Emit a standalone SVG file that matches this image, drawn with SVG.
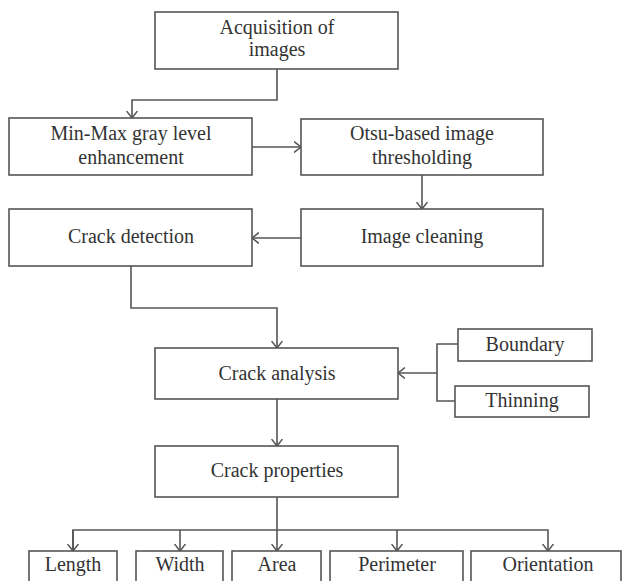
<svg xmlns="http://www.w3.org/2000/svg" width="622" height="581" viewBox="0 0 622 581">
<defs>
<style>
.box{fill:#fff;stroke:#555;stroke-width:1.6}
.t{font-family:"Liberation Serif","Times New Roman",serif;font-size:20px;fill:#333;text-anchor:middle}
.c{fill:none;stroke:#555;stroke-width:1.6}
</style>
<marker id="a" viewBox="0 0 7 12" refX="7" refY="6" markerWidth="7" markerHeight="12" markerUnits="userSpaceOnUse" orient="auto">
<path d="M0,0.5 L7,6 L0,11.5" fill="none" stroke="#555" stroke-width="1.5"/>
</marker>
</defs>
<rect width="622" height="581" fill="#fff"/>
<g id="connectors">
<path class="c" d="M277,69 V100 H132 V118" marker-end="url(#a)"/>
<path class="c" d="M252,147 H301" marker-end="url(#a)"/>
<path class="c" d="M422,175 V209" marker-end="url(#a)"/>
<path class="c" d="M301,238 H252" marker-end="url(#a)"/>
<path class="c" d="M131,266 V308 H277 V348" marker-end="url(#a)"/>
<path class="c" d="M458,344 H437 V401 H455"/>
<path class="c" d="M437,373 H398" marker-end="url(#a)"/>
<path class="c" d="M277,399 V446" marker-end="url(#a)"/>
<path class="c" d="M277,497 V551" marker-end="url(#a)"/>
<path class="c" d="M73,551 V530 H548 V551" marker-end="url(#a)"/>
<path class="c" d="M180,530 V551" marker-end="url(#a)"/>
<path class="c" d="M397,530 V551" marker-end="url(#a)"/>
<path class="c" d="M73,530 V551" marker-end="url(#a)"/>
</g>
<g id="acquisition"><rect class="box" x="155" y="12" width="243" height="57"/><text class="t" x="277" y="34">Acquisition of</text><text class="t" x="277" y="56">images</text></g>
<g id="minmax"><rect class="box" x="9" y="118" width="243" height="57"/><text class="t" x="131" y="140">Min-Max gray level</text><text class="t" x="131" y="164">enhancement</text></g>
<g id="otsu"><rect class="box" x="301" y="119" width="242" height="56"/><text class="t" x="422" y="140">Otsu-based image</text><text class="t" x="422" y="164">thresholding</text></g>
<g id="cleaning"><rect class="box" x="301" y="209" width="242" height="57"/><text class="t" x="422" y="243">Image cleaning</text></g>
<g id="detection"><rect class="box" x="9" y="209" width="243" height="57"/><text class="t" x="131" y="243">Crack detection</text></g>
<g id="analysis"><rect class="box" x="155" y="348" width="243" height="51"/><text class="t" x="277" y="380">Crack analysis</text></g>
<g id="boundary"><rect class="box" x="458" y="329" width="134" height="32"/><text class="t" x="525" y="351">Boundary</text></g>
<g id="thinning"><rect class="box" x="455" y="386" width="134" height="31"/><text class="t" x="522" y="407">Thinning</text></g>
<g id="properties"><rect class="box" x="155" y="446" width="243" height="51"/><text class="t" x="277" y="477">Crack properties</text></g>
<g id="length"><rect class="box" x="29" y="551" width="88" height="45"/><text class="t" x="73" y="571">Length</text></g>
<g id="width"><rect class="box" x="136" y="551" width="87" height="45"/><text class="t" x="180" y="571">Width</text></g>
<g id="area"><rect class="box" x="232" y="551" width="89" height="45"/><text class="t" x="277" y="571">Area</text></g>
<g id="perimeter"><rect class="box" x="330" y="551" width="133" height="45"/><text class="t" x="397" y="571">Perimeter</text></g>
<g id="orientation"><rect class="box" x="471" y="551" width="150" height="45"/><text class="t" x="548" y="571">Orientation</text></g>
</svg>
